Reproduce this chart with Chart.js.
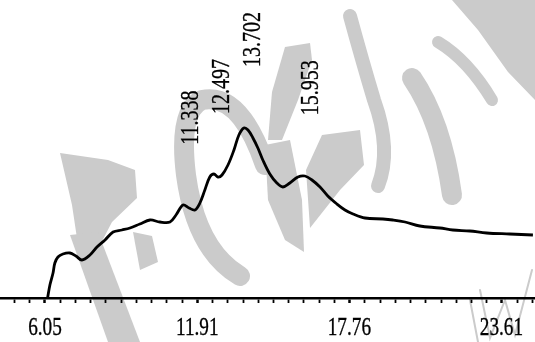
<!DOCTYPE html>
<html>
<head>
<meta charset="utf-8">
<title>Chromatogram</title>
<script src="https://cdn.jsdelivr.net/npm/chart.js"></script>
<style>
    html, body { margin: 0; padding: 0; background: #fff; }
    #wrap { position: relative; width: 535px; height: 342px; overflow: hidden; }
    #wm, #chart { position: absolute; left: 0; top: 0; }
</style>
</head>
<body>
<div id="wrap">
    <!-- grey watermark strokes behind the trace -->
    <svg id="wm" width="535" height="342" fill="#cbcbcb" stroke="#cbcbcb" stroke-linecap="round">
        <polygon stroke="none" points="60,153 108,160 135,170 137,198 112,222 100,245 78,245 72,205"/>
        <polygon stroke="none" points="70,235 98,232 140,342 108,342"/>
        <polygon stroke="none" points="133,232 152,236 158,262 140,270"/>
        <path fill="none" stroke-width="20" d="M 265,165 Q 240,92 202,100 Q 178,110 186,175 Q 196,250 240,276"/>
        <polygon stroke="none" points="272,92 285,47 310,43 312,60 298,100 282,140 268,140"/>
        <polygon stroke="none" points="265,145 290,140 302,200 304,252 285,240 268,200"/>
        <path fill="none" stroke-width="14" d="M 350,16 Q 362,60 374,100 Q 392,150 378,186"/>
        <polygon stroke="none" points="322,135 360,130 364,165 340,190 310,228 306,170"/>
        <path fill="none" stroke-width="20" d="M 412,78 Q 442,122 452,195"/>
        <polygon stroke="none" points="452,0 535,0 535,100 508,72 478,30"/>
        <path fill="none" stroke-width="12" d="M 438,42 Q 468,60 492,100"/>
        <path fill="none" stroke-width="2" d="M 470,300 L 478,342 M 480,290 L 490,338 L 505,300 L 515,335 L 532,270"/>
    </svg>
    <canvas id="chart" width="535" height="342"></canvas>
</div>
<script>
    // retention time (min) and detector signal (arbitrary units)
    const retention = [6.15, 6.24, 6.36, 6.43, 6.55, 6.74, 7.01, 7.24, 7.47, 7.78, 8.05, 8.36, 8.67, 9.01,
        9.32, 9.70, 10.09, 10.47, 10.86, 11.09, 11.36, 11.59, 11.82, 12.01, 12.20, 12.39, 12.55, 12.70,
        12.86, 13.09, 13.32, 13.51, 13.70, 13.86, 14.05, 14.24, 14.43, 14.70, 14.97, 15.20, 15.47, 15.78,
        16.05, 16.32, 16.63, 16.93, 17.28, 17.59, 17.90, 18.36, 19.05, 19.43, 19.90, 20.47, 21.24, 21.74,
        22.39, 23.04, 23.93, 24.82];
    const signal = [0, 13, 25, 35, 41, 44, 45, 42, 38, 43, 51, 58, 66, 68,
        70, 74, 78, 76, 76, 83, 93, 90, 88, 95, 108, 121, 124, 121,
        123, 133, 148, 163, 170, 168, 160, 150, 138, 124, 115, 111, 115, 121,
        122, 118, 111, 102, 94, 88, 84, 80, 79, 78, 76, 72, 70, 68,
        67, 65, 64, 63];

    const tickLabels = ['6.05', '11.91', '17.76', '23.61'];
    const peakLabels = ['11.338', '12.497', '13.702', '15.953'];

    const xMin = 4.32, xMax = 24.9;
    const minorStep = (parseFloat(tickLabels[1]) - parseFloat(tickLabels[0])) / 10;

    // signal under a given retention time, for placing the peak labels
    function signalAt(t) {
        for (let i = 1; i < retention.length; i++) {
            if (retention[i] >= t) {
                const f = (t - retention[i - 1]) / (retention[i] - retention[i - 1]);
                return signal[i - 1] + f * (signal[i] - signal[i - 1]);
            }
        }
        return signal[signal.length - 1];
    }

    // scanned type is heavy, so fill and lightly stroke
    function heavyText(ctx, t) {
        ctx.fillText(t, 0, 0);
        ctx.strokeText(t, 0, 0);
    }

    const textPlugin = {
        id: 'chromText',
        afterDraw(chart) {
            const ctx = chart.ctx;
            const xs = chart.scales.x, ys = chart.scales.y;
            ctx.save();
            ctx.fillStyle = '#000';
            ctx.strokeStyle = '#000';
            ctx.lineWidth = 0.35;
            ctx.font = '26px "Liberation Serif", "DejaVu Serif", serif';
            ctx.textBaseline = 'alphabetic';

            // axis labels, condensed like the original
            ctx.textAlign = 'center';
            tickLabels.forEach(t => {
                ctx.save();
                ctx.translate(xs.getPixelForValue(parseFloat(t)), 335);
                ctx.scale(0.74, 1);
                heavyText(ctx, t);
                ctx.restore();
            });

            // vertical peak labels above each peak
            ctx.textAlign = 'left';
            peakLabels.forEach(t => {
                const v = parseFloat(t);
                ctx.save();
                ctx.translate(xs.getPixelForValue(v) + 16, ys.getPixelForValue(signalAt(v)) - 61);
                ctx.rotate(-Math.PI / 2);
                ctx.scale(0.77, 1);
                heavyText(ctx, t);
                ctx.restore();
            });
            ctx.restore();
        }
    };

    new Chart(document.getElementById('chart'), {
        type: 'line',
        data: {
            datasets: [{
                data: retention.map((t, i) => ({ x: t, y: signal[i] })),
                borderColor: '#000',
                borderWidth: 2.8,
                pointRadius: 0,
                tension: 0.35,
                fill: false
            }]
        },
        options: {
            responsive: false,
            animation: false,
            layout: { padding: 0 },
            plugins: { legend: { display: false }, tooltip: { enabled: false } },
            scales: {
                x: {
                    type: 'linear',
                    min: xMin,
                    max: xMax,
                    afterBuildTicks: scale => {
                        const ticks = [];
                        for (let k = -4; k <= 40; k++) {
                            const v = parseFloat(tickLabels[0]) + k * minorStep;
                            if (v >= xMin && v <= xMax) ticks.push({ value: v, major: k % 10 === 0 });
                        }
                        scale.ticks = ticks;
                    },
                    afterFit: scale => { scale.height = 44; },
                    ticks: { display: false },
                    grid: {
                        drawOnChartArea: false,
                        drawTicks: true,
                        tickLength: 5,
                        tickColor: '#000',
                        tickWidth: c => (c.tick && c.tick.major ? 2.5 : 1.8)
                    },
                    border: { display: true, color: '#000', width: 2.6 }
                },
                y: { display: false, min: 0, max: 298 }
            }
        },
        plugins: [textPlugin]
    });
</script>
</body>
</html>
